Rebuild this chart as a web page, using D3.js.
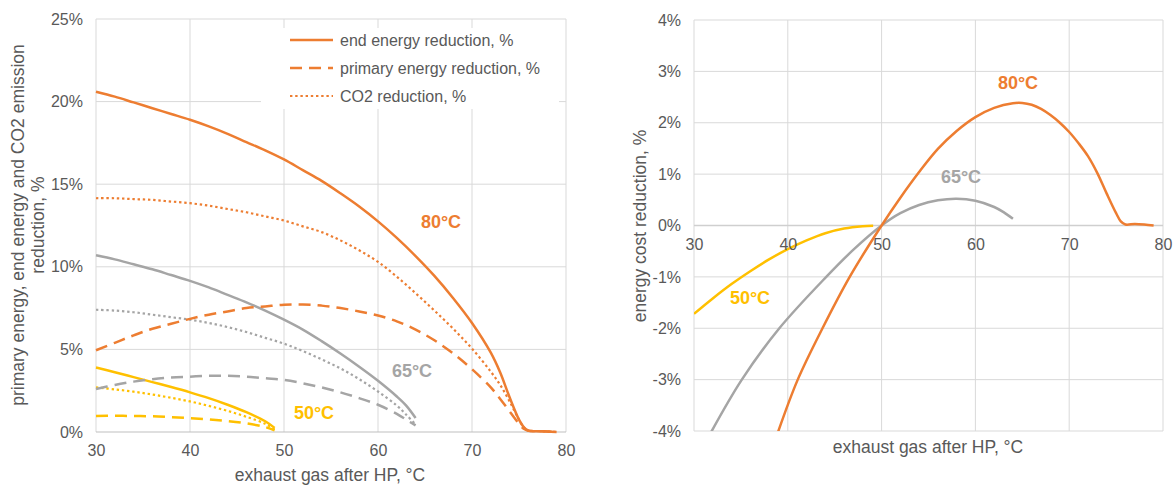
<!DOCTYPE html>
<html>
<head>
<meta charset="utf-8">
<script src="https://cdn.jsdelivr.net/npm/d3@7"></script>
<style>
  body { margin: 0; background: #fff; }
  svg text { font-family: "Liberation Sans", Arial, sans-serif; fill: #595959; }
</style>
</head>
<body>
<div id="chart"></div>
<script>
// ---- data: [exhaust gas °C, value %] ----
const end80 = [[30,20.6],[32,20.3],[34,19.95],[36,19.6],[38,19.25],[40,18.9],[42,18.5],[44,18.05],[46,17.55],[48,17.05],[50,16.5],[52,15.85],[54,15.2],[56,14.45],[58,13.65],[60,12.75],[62,11.75],[64,10.65],[66,9.45],[68,8.1],[70,6.6],[72,4.8],[73,3.6],[74,2.1],[75,0.75],[75.5,0.3],[76,0.08],[77,0.05],[78,0.03],[79,0.0]];
const prim80 = [[30,4.95],[32,5.4],[34,5.85],[36,6.25],[38,6.55],[40,6.85],[42,7.1],[44,7.3],[46,7.5],[48,7.6],[50,7.7],[52,7.72],[54,7.65],[56,7.5],[58,7.3],[60,7.05],[62,6.7],[64,6.2],[66,5.55],[68,4.75],[70,3.8],[72,2.7],[73,2.0],[74,1.25],[75,0.5],[75.5,0.2],[76,0.08],[77,0.05],[78,0.03],[79,0.0]];
const co280 = [[30,14.15],[32,14.15],[34,14.1],[36,14.05],[38,13.95],[40,13.85],[42,13.7],[44,13.5],[46,13.3],[48,13.05],[50,12.8],[52,12.45],[54,12.1],[56,11.6],[58,11.0],[60,10.3],[62,9.4],[64,8.4],[66,7.35],[68,6.25],[70,5.05],[72,3.65],[73,2.85],[74,1.85],[75,0.75],[75.5,0.3],[76,0.08],[77,0.05],[78,0.03],[79,0.0]];
const end65 = [[30,10.7],[32,10.45],[34,10.15],[36,9.85],[38,9.5],[40,9.15],[42,8.75],[44,8.3],[46,7.85],[48,7.35],[50,6.8],[52,6.2],[54,5.5],[56,4.75],[58,3.95],[60,3.1],[62,2.15],[63,1.6],[64,0.85]];
const prim65 = [[30,2.6],[32,2.85],[34,3.05],[36,3.2],[38,3.3],[40,3.35],[42,3.4],[44,3.4],[46,3.35],[48,3.25],[50,3.15],[52,2.95],[54,2.7],[56,2.4],[58,2.05],[60,1.65],[62,1.1],[63,0.75],[64,0.4]];
const co265 = [[30,7.4],[32,7.35],[34,7.25],[36,7.1],[38,6.95],[40,6.8],[42,6.6],[44,6.35],[46,6.05],[48,5.7],[50,5.35],[52,4.9],[54,4.4],[56,3.85],[58,3.2],[60,2.45],[62,1.6],[63,1.05],[64,0.45]];
const end50 = [[30,3.9],[32,3.62],[34,3.32],[36,3.02],[38,2.72],[40,2.4],[42,2.05],[44,1.65],[46,1.2],[48,0.65],[49,0.25]];
const prim50 = [[30,0.97],[32,0.98],[34,0.97],[36,0.95],[38,0.9],[40,0.84],[42,0.76],[44,0.66],[46,0.52],[48,0.3],[49,0.1]];
const co250 = [[30,2.7],[32,2.58],[34,2.44],[36,2.27],[38,2.07],[40,1.85],[42,1.58],[44,1.28],[46,0.92],[48,0.5],[49,0.15]];

const cost80 = [[38.9,-4.05],[41.06,-3],[43.7,-2],[46.6,-1],[50,0],[52,0.54],[54,1.04],[56,1.49],[58,1.84],[60,2.11],[62,2.29],[64,2.38],[65,2.385],[66,2.35],[67,2.27],[68,2.15],[69,2.0],[70,1.82],[71,1.6],[72,1.35],[73,1.02],[74,0.62],[75,0.24],[75.5,0.08],[76,0.02],[77,0.03],[78,0.02],[79,0.0]];
const cost65 = [[31.8,-4.03],[35.1,-3],[39.1,-2],[44.1,-1],[47,-0.47],[50,0],[52,0.24],[54,0.4],[56,0.49],[58,0.52],[60,0.48],[62,0.36],[63,0.26],[64,0.13]];
const cost50 = [[30,-1.72],[32,-1.42],[34,-1.14],[36,-0.89],[38,-0.66],[40,-0.46],[42,-0.29],[44,-0.15],[46,-0.06],[48,-0.015],[49.1,-0.005]];

const legendLabels = ["end energy reduction, %", "primary energy reduction, %", "CO2 reduction, %"];
const xTitle = "exhaust gas after HP, °C";

const orange = "#ED7D31", grey = "#A5A5A5", yellow = "#FFC000";
const styles = {
  solid: { w: 2.5, dash: null },
  dash: { w: 2.5, dash: "12,7" },
  dot: { w: 2.2, dash: "2.4,2.8" }
};

const svg = d3.select("#chart").append("svg")
  .attr("width", 1173).attr("height", 486);

const pct = d => Math.round(d * 100) + "%";

function grid(g, x, y, xt, yt) {
  g.selectAll(".gx").data(xt).enter().append("line")
    .attr("x1", d => x(d)).attr("x2", d => x(d))
    .attr("y1", y.range()[0]).attr("y2", y.range()[1])
    .attr("stroke", "#D9D9D9").attr("stroke-width", 1);
  g.selectAll(".gy").data(yt).enter().append("line")
    .attr("y1", d => y(d)).attr("y2", d => y(d))
    .attr("x1", x.range()[0]).attr("x2", x.range()[1])
    .attr("stroke", "#D9D9D9").attr("stroke-width", 1);
}

function drawLine(g, data, x, y, color, st) {
  const line = d3.line()
    .x(d => x(d[0])).y(d => y(d[1] / 100))
    .curve(d3.curveCatmullRom.alpha(0.5));
  g.append("path").datum(data)
    .attr("d", line)
    .attr("fill", "none")
    .attr("stroke", color)
    .attr("stroke-width", st.w)
    .attr("stroke-dasharray", st.dash);
}

function label(g, txt, x, y, color) {
  g.append("text").attr("x", x).attr("y", y)
    .attr("text-anchor", "middle").attr("dominant-baseline", "central")
    .style("font-size", "18px").style("font-weight", "bold")
    .style("fill", color).text(txt);
}

function styleAxis(a) {
  a.select(".domain").remove();
  a.selectAll("text").style("font-size", "16px").style("fill", "#595959").attr("font-family", null);
}

// ---------------- left chart ----------------
{
  const x = d3.scaleLinear().domain([30, 80]).range([96, 566]);
  const y = d3.scaleLinear().domain([0, 0.25]).range([432, 19]);
  const g = svg.append("g");

  grid(g, x, y, d3.range(40, 81, 10), d3.range(0.05, 0.251, 0.05));

  // legend box hides grid
  g.append("rect").attr("x", 261).attr("y", 28).attr("width", 298).attr("height", 81).attr("fill", "#fff");

  // axes
  g.append("line").attr("x1", x(30)).attr("x2", x(30)).attr("y1", y(0)).attr("y2", y(0.25))
    .attr("stroke", "#D9D9D9");
  g.append("line").attr("x1", x(30)).attr("x2", x(80)).attr("y1", y(0)).attr("y2", y(0))
    .attr("stroke", "#BFBFBF");

  styleAxis(g.append("g").attr("transform", `translate(0,${y(0)})`)
    .call(d3.axisBottom(x).tickValues(d3.range(30, 81, 10)).tickSize(0).tickPadding(13)));
  styleAxis(g.append("g").attr("transform", `translate(${x(30)},0)`)
    .call(d3.axisLeft(y).tickValues(d3.range(0, 0.251, 0.05)).tickFormat(pct).tickSize(0).tickPadding(13)));

  g.append("text").attr("x", 330).attr("y", 481).attr("text-anchor", "middle")
    .style("font-size", "17.5px").text(xTitle);
  const yt = g.append("text").attr("transform", "translate(24,225) rotate(-90)")
    .attr("text-anchor", "middle").style("font-size", "17.5px");
  yt.append("tspan").attr("x", 0).attr("dy", 0).text("primary energy, end energy and CO2 emission");
  yt.append("tspan").attr("x", 0).attr("dy", 20).text("reduction, %");

  drawLine(g, prim50, x, y, yellow, styles.dash);
  drawLine(g, co250, x, y, yellow, styles.dot);
  drawLine(g, end50, x, y, yellow, styles.solid);
  drawLine(g, prim65, x, y, grey, styles.dash);
  drawLine(g, co265, x, y, grey, styles.dot);
  drawLine(g, end65, x, y, grey, styles.solid);
  drawLine(g, prim80, x, y, orange, styles.dash);
  drawLine(g, co280, x, y, orange, styles.dot);
  drawLine(g, end80, x, y, orange, styles.solid);

  label(g, "80°C", 441, 222, orange);
  label(g, "65°C", 412, 371, grey);
  label(g, "50°C", 314, 413, yellow);

  // legend
  const keys = [styles.solid, styles.dash, styles.dot];
  const lg = g.append("g");
  keys.forEach((st, i) => {
    const yy = 40 + i * 28;
    lg.append("line").attr("x1", 290).attr("x2", 333).attr("y1", yy).attr("y2", yy)
      .attr("stroke", orange).attr("stroke-width", st.w).attr("stroke-dasharray", st.dash);
    lg.append("text").attr("x", 340).attr("y", yy).attr("dominant-baseline", "central")
      .style("font-size", "16px").text(legendLabels[i]);
  });
}

// ---------------- right chart ----------------
{
  const x = d3.scaleLinear().domain([30, 80]).range([694, 1163]);
  const y = d3.scaleLinear().domain([-0.04, 0.04]).range([431, 20]);
  const g = svg.append("g");

  grid(g, x, y, d3.range(40, 81, 10), d3.range(-0.04, 0.0401, 0.01));

  g.append("line").attr("x1", x(30)).attr("x2", x(30)).attr("y1", y(-0.04)).attr("y2", y(0.04))
    .attr("stroke", "#D9D9D9");
  g.append("line").attr("x1", x(30)).attr("x2", x(80)).attr("y1", y(0)).attr("y2", y(0))
    .attr("stroke", "#CFCFCF").attr("stroke-width", 1.5);

  svg.append("clipPath").attr("id", "clipR").append("rect")
    .attr("x", x(30)).attr("y", y(0.04)).attr("width", x(80) - x(30)).attr("height", y(-0.04) - y(0.04));
  const lines = g.append("g").attr("clip-path", "url(#clipR)");
  drawLine(lines, cost50, x, y, yellow, styles.solid);
  drawLine(lines, cost65, x, y, grey, styles.solid);
  drawLine(lines, cost80, x, y, orange, styles.solid);

  styleAxis(g.append("g").attr("transform", `translate(0,${y(0)})`)
    .call(d3.axisBottom(x).tickValues(d3.range(30, 81, 10)).tickSize(0).tickPadding(13)));
  styleAxis(g.append("g").attr("transform", `translate(${x(30)},0)`)
    .call(d3.axisLeft(y).tickValues(d3.range(-4, 4.1, 1).map(d => d / 100)).tickFormat(pct).tickSize(0).tickPadding(13)));

  g.append("text").attr("x", 928).attr("y", 453).attr("text-anchor", "middle")
    .style("font-size", "17.5px").text(xTitle);
  g.append("text").attr("transform", "translate(646,226) rotate(-90)")
    .attr("text-anchor", "middle").style("font-size", "17.5px").text("energy cost reduction, %");

  label(g, "80°C", 1018, 83, orange);
  label(g, "65°C", 961, 177, grey);
  label(g, "50°C", 750, 298, yellow);
}
</script>
</body>
</html>
